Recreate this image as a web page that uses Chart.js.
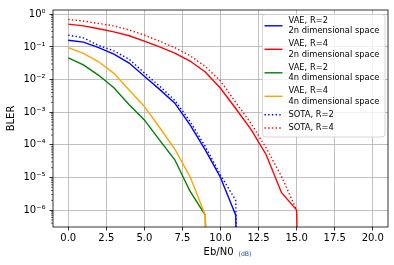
<!DOCTYPE html>
<html>
<head>
<meta charset="utf-8">
<script src="https://cdn.jsdelivr.net/npm/chart.js@4/dist/chart.umd.min.js"></script>
<style>
  html, body { margin:0; padding:0; background:#fff; }
  #wrap { width:394px; height:265px; position:relative; }
</style>
</head>
<body>
<div id="wrap"><canvas id="chart"></canvas></div>
<script>
// Eb/N0 in dB
const ebn0 = [0,1,2,3,4,5,6,7,8,9,10,11,12,13,14,15,16,17,18,19,20];

// BLER values (0 = below plot, drawn as a drop like matplotlib does)
const vaeR2_2n = [0.16,0.14,0.095,0.06,0.032,0.0126,0.005,0.0019,4.1e-4,7e-5,1e-5,7e-7,0,0,0,0,0,0,0,0,0];
const vaeR4_2n = [0.50,0.44,0.36,0.29,0.22,0.15,0.10,0.065,0.037,0.017,0.0054,0.0013,3e-4,5e-5,3.5e-6,1e-6,0,0,0,0,0];
const vaeR2_4n = [0.046,0.028,0.0135,0.0056,0.0017,5.8e-4,1.4e-4,3.5e-5,3.8e-6,7e-7,0,0,0,0,0,0,0,0,0,0,0];
const vaeR4_4n = [0.095,0.063,0.035,0.0155,0.0048,0.0015,3.4e-4,7.4e-5,1.07e-5,7e-7,0,0,0,0,0,0,0,0,0,0,0];
const sotaR2 = [0.23,0.19,0.11,0.076,0.042,0.016,0.0063,0.0023,5.2e-4,8.9e-5,1.2e-5,2e-6,0];
const sotaR4 = [0.69,0.62,0.52,0.44,0.33,0.23,0.15,0.095,0.054,0.025,0.0091,0.002,4.6e-4,8e-5,1.1e-5,1e-6];

const yTicks = [1e-6,1e-5,1e-4,1e-3,1e-2,1e-1,1];
const yTickLabels = ['10⁻⁶','10⁻⁵','10⁻⁴','10⁻³','10⁻²','10⁻¹','10⁰'];

const FONT = 'DejaVu Sans';

function pts(vals){
  // log axis can't show 0, push it far below like matplotlib's clipping
  return vals.map((v,i) => ({ x: ebn0[i], y: v > 0 ? v : 1e-30 }));
}

const series = [
  { label:['VAE, R=2','2n dimensional space'], data:vaeR2_2n, color:'#0000ff', dash:[] },
  { label:['VAE, R=4','2n dimensional space'], data:vaeR4_2n, color:'#ff0000', dash:[] },
  { label:['VAE, R=2','4n dimensional space'], data:vaeR2_4n, color:'#008000', dash:[] },
  { label:['VAE, R=4','4n dimensional space'], data:vaeR4_4n, color:'#ffa500', dash:[] },
  { label:['SOTA, R=2'], data:sotaR2, color:'#0000ff', dash:[1.4,2.3] },
  { label:['SOTA, R=4'], data:sotaR4, color:'#ff0000', dash:[1.4,2.3] }
];

const extras = {
  id:'extras',
  afterDatasetsDraw(chart){
    const ctx = chart.ctx, a = chart.chartArea, ys = chart.scales.y;
    ctx.save();
    // minor ticks on the log axis
    ctx.strokeStyle = '#000';
    ctx.lineWidth = 0.6;
    for(let n=-7;n<=0;n++){
      for(let k=2;k<=9;k++){
        const v = k*Math.pow(10,n);
        if(v < ys.min || v > ys.max) continue;
        const y = ys.getPixelForValue(v);
        ctx.beginPath(); ctx.moveTo(a.left-2, y); ctx.lineTo(a.left, y); ctx.stroke();
      }
    }
    // spines
    ctx.lineWidth = 0.8;
    ctx.strokeRect(a.left, a.top, a.right-a.left, a.bottom-a.top);
    ctx.restore();
  },
  afterDraw(chart){
    const ctx = chart.ctx, a = chart.chartArea;
    ctx.save();
    // axis titles
    ctx.fillStyle = '#000';
    ctx.font = '10px "' + FONT + '"';
    ctx.textBaseline = 'middle';
    ctx.textAlign = 'center';
    ctx.save();
    ctx.translate(11, (a.top+a.bottom)/2);
    ctx.rotate(-Math.PI/2);
    ctx.fillText('BLER', 0, 0);
    ctx.restore();

    ctx.textAlign = 'left';
    ctx.textBaseline = 'alphabetic';
    const t1 = 'Eb/N0', t2 = '(dB)';
    ctx.font = '10px "' + FONT + '"';
    const w1 = ctx.measureText(t1).width;
    const x0 = (a.left+a.right)/2 + 13 - w1;
    ctx.fillText(t1, x0, 254.5);
    ctx.fillStyle = '#1f4e9c';
    ctx.font = '6.2px "' + FONT + '"';
    ctx.fillText(t2, x0+w1+5, 255.5);

    // legend
    const lx = 262.5, ly = 14.5, lw = 122.5, lh = 122.5;
    ctx.beginPath();
    ctx.roundRect(lx, ly, lw, lh, 3);
    ctx.fillStyle = 'rgba(255,255,255,0.8)';
    ctx.fill();
    ctx.strokeStyle = '#cccccc';
    ctx.lineWidth = 0.8;
    ctx.stroke();

    ctx.font = '8.33px "' + FONT + '"';
    ctx.textBaseline = 'middle';
    let y = 20.7;
    chart.data.datasets.forEach(ds => {
      const lines = ds.legendLines;
      const mid = y + (lines.length-1)*10.2/2;
      ctx.strokeStyle = ds.borderColor;
      ctx.lineWidth = 1.4;
      ctx.setLineDash(ds.borderDash || []);
      ctx.beginPath(); ctx.moveTo(264.5, mid); ctx.lineTo(282.5, mid); ctx.stroke();
      ctx.setLineDash([]);
      ctx.fillStyle = '#000';
      lines.forEach((t,i) => ctx.fillText(t, 288.5, y + i*10.2));
      y += (lines.length-1)*10.2 + 13.3;
    });
    ctx.restore();
  }
};

new Chart(document.getElementById('chart'), {
  type:'line',
  data:{
    datasets: series.map((s,i) => ({
      label: s.label.join(' '),
      legendLines: s.label,
      data: pts(s.data),
      borderColor: s.color,
      backgroundColor: s.color,
      borderWidth: 1.4,
      borderDash: s.dash,
      pointRadius: 0,
      fill: false,
      tension: 0,
      order: 10 - i
    }))
  },
  options:{
    responsive:true,
    maintainAspectRatio:false,
    animation:false,
    layout:{ padding:{ top:9, right:6, left:0, bottom:0 } },
    plugins:{ legend:{ display:false }, tooltip:{ enabled:false } },
    scales:{
      x:{
        type:'linear', min:-1, max:21,
        afterFit(s){ s.height = 38; },
        ticks:{ stepSize:2.5, includeBounds:false, autoSkip:false, maxRotation:0, padding:2,
                color:'#000', font:{ family:FONT, size:10 }, callback:v => v.toFixed(1) },
        grid:{ color:'#b0b0b0', lineWidth:0.8, tickLength:3.5, tickColor:'#000', tickWidth:0.8 },
        border:{ display:false }
      },
      y:{
        type:'logarithmic', min:3.05e-7, max:1.35,
        afterFit(s){ s.width = 53; },
        afterBuildTicks(s){ s.ticks = yTicks.map(v => ({ value:v, major:true })); },
        ticks:{ autoSkip:false, padding:4, color:'#000', font:{ family:FONT, size:10 },
                callback:(v,i) => yTickLabels[i] },
        grid:{ color:'#b0b0b0', lineWidth:0.8, tickLength:3.5, tickColor:'#000', tickWidth:0.8 },
        border:{ display:false }
      }
    }
  },
  plugins:[extras]
});
</script>
</body>
</html>
